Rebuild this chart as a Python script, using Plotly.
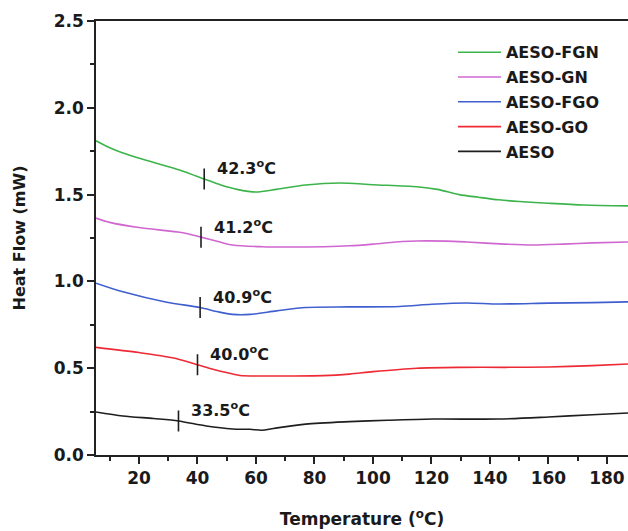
import numpy as np
import plotly.graph_objects as go

# ---- data ----
names = ["AESO-FGN", "AESO-GN", "AESO-FGO", "AESO-GO", "AESO"]
colors = ["#3cb44b", "#d067d0", "#3f5fcf", "#ee2a35", "#1e1e1e"]

fgn_x = [5.3, 10, 14.5, 26, 35, 42.3, 48, 53.5, 60, 67, 77, 88.5, 100, 115, 122, 129.5, 136, 143, 150, 160, 172, 187.2]
fgn_y = [1.81, 1.77, 1.74, 1.68, 1.635, 1.59, 1.555, 1.53, 1.515, 1.53, 1.555, 1.567, 1.557, 1.545, 1.53, 1.50, 1.485, 1.47, 1.46, 1.45, 1.44, 1.435]

gn_x = [5.3, 10, 20, 35, 41.2, 47, 52, 62, 72, 83, 92, 100, 110, 115, 125, 132, 145, 154.5, 165, 175, 187.2]
gn_y = [1.365, 1.34, 1.31, 1.28, 1.255, 1.23, 1.21, 1.20, 1.198, 1.20, 1.205, 1.215, 1.23, 1.233, 1.232, 1.227, 1.215, 1.21, 1.215, 1.222, 1.227]

fgo_x = [5.3, 14.5, 29.5, 40.9, 47, 52, 58, 67, 77, 92, 109, 120, 132, 143, 160, 175, 187.2]
fgo_y = [0.99, 0.94, 0.88, 0.85, 0.825, 0.81, 0.81, 0.83, 0.85, 0.853, 0.855, 0.868, 0.876, 0.87, 0.875, 0.878, 0.882]

go_x = [5.3, 20, 31.5, 40, 45, 48.6, 54.5, 62, 71.5, 83, 92, 100, 115, 130, 145, 160, 175, 187.2]
go_y = [0.62, 0.59, 0.56, 0.52, 0.495, 0.48, 0.458, 0.455, 0.455, 0.457, 0.466, 0.48, 0.50, 0.505, 0.505, 0.507, 0.515, 0.524]

aeso_x = [5.3, 14.5, 25, 33.5, 43, 52, 58, 62, 66, 77, 92, 105, 120.5, 143, 160, 175, 187.2]
aeso_y = [0.248, 0.225, 0.21, 0.196, 0.167, 0.15, 0.148, 0.143, 0.153, 0.178, 0.192, 0.20, 0.207, 0.207, 0.219, 0.232, 0.242]

tg_values = [42.3, 41.2, 40.9, 40.0, 33.5]
tg_labels = ["42.3<sup>o</sup>C", "41.2<sup>o</sup>C", "40.9<sup>o</sup>C", "40.0<sup>o</sup>C", "33.5<sup>o</sup>C"]

x_ticks = [20, 40, 60, 80, 100, 120, 140, 160, 180]
y_ticks = [0.0, 0.5, 1.0, 1.5, 2.0, 2.5]

series = [(fgn_x, fgn_y), (gn_x, gn_y), (fgo_x, fgo_y), (go_x, go_y), (aeso_x, aeso_y)]

FONT = "DejaVu Sans"

fig = go.Figure()
for i, (name, col, (xs, ys)) in enumerate(zip(names, colors, series)):
    fig.add_trace(go.Scatter(
        x=xs, y=ys, mode="lines", name=name, legendgroup=name,
        line=dict(color=col, width=1.6, shape="spline", smoothing=0.8),
    ))

# transition markers and labels
tick_y = [float(np.interp(t, xs, ys)) for t, (xs, ys) in zip(tg_values, series)]
fig.add_trace(go.Scatter(
    x=tg_values, y=tick_y, mode="markers", showlegend=False, hoverinfo="skip",
    marker=dict(symbol="line-ns", size=15, line=dict(color="#1e1e1e", width=1.6)),
))
for t, yv, lab in zip(tg_values, tick_y, tg_labels):
    fig.add_annotation(x=t, y=yv, text=lab, showarrow=False, xanchor="left", yanchor="middle",
                       xshift=11, yshift=11,
                       font=dict(family=FONT, size=16, color="#1a1a1a", weight="bold"))

fig.update_layout(
    width=628, height=531,
    margin=dict(l=96, r=0, t=21, b=76),
    paper_bgcolor="white", plot_bgcolor="white",
    font=dict(family=FONT, size=17, color="#1a1a1a", weight="bold"),
    showlegend=True,
    legend=dict(x=0.671, y=0.967, xanchor="left", yanchor="top",
                bgcolor="rgba(0,0,0,0)", tracegroupgap=1,
                font=dict(family=FONT, size=16, color="#1a1a1a", weight="bold"),
                itemwidth=43),
)
fig.update_xaxes(
    range=[5.3, 187.2], tickvals=x_ticks, showgrid=False, zeroline=False, automargin=False,
    showline=True, linecolor="#222", linewidth=1.5, mirror=True,
    ticks="outside", ticklen=7, tickwidth=1.5, tickcolor="#222",
    minor=dict(dtick=10, tick0=0, ticks="outside", ticklen=4, tickwidth=1.5, tickcolor="#222"),
    title=dict(text="Temperature (<sup>o</sup>C)", standoff=26,
               font=dict(family=FONT, size=17, weight="bold")),
    tickfont=dict(family=FONT, size=17, weight="bold"),
)
fig.update_yaxes(
    range=[0, 2.5], tickvals=y_ticks, tickformat=".1f", showgrid=False, zeroline=False, automargin=False,
    showline=True, linecolor="#222", linewidth=1.5,
    ticks="outside", ticklen=7, tickwidth=1.5, tickcolor="#222",
    minor=dict(dtick=0.25, tick0=0, ticks="outside", ticklen=4, tickwidth=1.5, tickcolor="#222"),
    title=dict(text="Heat Flow (mW)", standoff=24,
               font=dict(family=FONT, size=16, weight="bold")),
    tickfont=dict(family=FONT, size=17, weight="bold"),
)

fig.write_html("out.html", config={"displayModeBar": False},
               post_script="document.body.style.margin='0';document.body.style.overflow='hidden';")
